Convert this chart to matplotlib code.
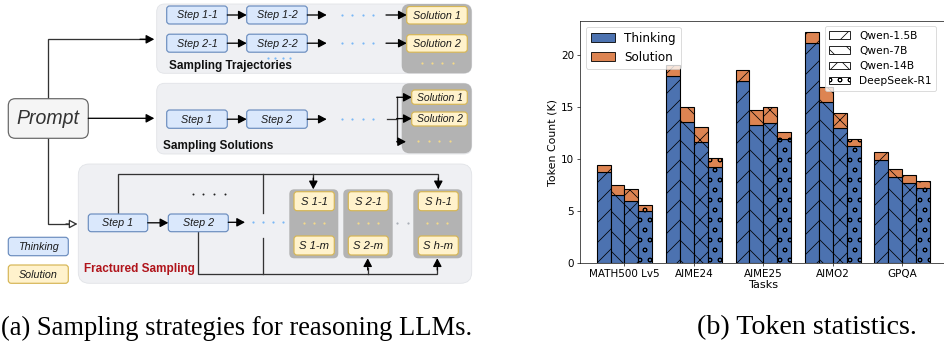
import numpy as np
import matplotlib
matplotlib.use("Agg")
import matplotlib.pyplot as plt
from matplotlib.patches import FancyBboxPatch, Patch

# ---------------- data (right panel) ----------------
tasks = ["MATH500 Lv5", "AIME24", "AIME25", "AIMO2", "GPQA"]
models = ["Qwen-1.5B", "Qwen-7B", "Qwen-14B", "DeepSeek-R1"]
hatches = ["/", "\\", "x", "o"]
thinking_q15 = [8.75, 17.98, 17.50, 21.15, 9.93]
solution_q15 = [0.73, 1.06, 1.09, 1.05, 0.74]
thinking_q7 = [6.57, 13.56, 13.30, 15.54, 8.33]
solution_q7 = [0.93, 1.44, 1.40, 1.38, 0.74]
thinking_q14 = [6.02, 11.63, 13.52, 13.04, 7.72]
solution_q14 = [1.12, 1.47, 1.48, 1.38, 0.77]
thinking_r1 = [5.03, 9.29, 11.98, 11.28, 7.21]
solution_r1 = [0.55, 0.81, 0.62, 0.64, 0.70]

# ---------------- labels (left diagram) ----------------
traj_steps = [["Step 1-1", "Step 1-2"], ["Step 2-1", "Step 2-2"]]
traj_solutions = ["Solution 1", "Solution 2"]
sol_steps = ["Step 1", "Step 2"]
sol_solutions = ["Solution 1", "Solution 2"]
frac_steps = ["Step 1", "Step 2"]
frac_groups = [["S 1-1", "S 1-m"], ["S 2-1", "S 2-m"], ["S h-1", "S h-m"]]

DPI = 60
W, H = 944, 345
fig = plt.figure(figsize=(W / DPI, H / DPI), dpi=DPI)


def fs(px):
    return px * 72.0 / DPI


# ======================= LEFT DIAGRAM =======================
ax0 = fig.add_axes([0, 0, 1, 1])
ax0.set_xlim(0, W)
ax0.set_ylim(H, 0)
ax0.axis("off")

THINK_FC, THINK_EC = "#dae8fc", "#6c8ebf"
SOL_FC, SOL_EC = "#fff2cc", "#d6b656"
PANEL_FC, PANEL_EC = "#eff0f3", "#e1e3e7"
DARK = "#b3b3b3"
LINE = "#333333"
SANS = ["Liberation Sans", "DejaVu Sans"]
LW = fs(1.3)


def rbox(x0, y0, x1, y1, fc, ec, r, lw=1.0, z=1):
    ax0.add_patch(FancyBboxPatch((x0, y0), x1 - x0, y1 - y0,
                                 boxstyle=f"round,pad=0,rounding_size={r}",
                                 fc=fc, ec=ec, lw=lw, zorder=z))


def lbox(x0, y0, x1, y1, text, kind, size=10.8):
    fc, ec = (THINK_FC, THINK_EC) if kind == "t" else (SOL_FC, SOL_EC)
    rbox(x0, y0, x1, y1, fc, ec, 3, lw=fs(1.2), z=3)
    ax0.text((x0 + x1) / 2, (y0 + y1) / 2 + 0.5, text, ha="center", va="center",
             fontsize=fs(size), style="italic", family=SANS, color="#1a1a1a", zorder=4)


def arrow(x0, y0, x1, y1, open_head=False):
    ax0.annotate("", xy=(x1, y1), xytext=(x0, y0),
                 arrowprops=dict(arrowstyle="-|>,head_length=0.45,head_width=0.24",
                                 mutation_scale=fs(15), lw=LW,
                                 fc="white" if open_head else "black",
                                 ec="black" if not open_head else LINE,
                                 color=LINE if open_head else "black",
                                 shrinkA=0, shrinkB=0), zorder=5)


def pline(xs, ys):
    ax0.plot(xs, ys, color=LINE, lw=LW, solid_joinstyle="miter", zorder=2)


def dots(x0, x1, y, n, color, s=2.2):
    ax0.plot(np.linspace(x0, x1, n), [y] * n, "o", ms=fs(s), color=color, mec="none", zorder=4)


# panels
rbox(156.7, 4, 471.7, 73.3, PANEL_FC, PANEL_EC, 8, lw=1)
rbox(156.7, 83.3, 471.7, 154, PANEL_FC, PANEL_EC, 8, lw=1)
rbox(78.3, 164, 471.7, 283.3, PANEL_FC, PANEL_EC, 11, lw=1)
rbox(401.7, 4, 471.7, 73.3, DARK, "none", 8, lw=0, z=2)
rbox(401.7, 83.3, 471.7, 153.3, DARK, "none", 8, lw=0, z=2)
for gx0, gx1 in [(289.3, 338.3), (343.3, 392.7), (413.3, 462.3)]:
    rbox(gx0, 189.3, gx1, 258.3, DARK, "none", 5, lw=0, z=2)

# --- Sampling Trajectories ---
for row, yc in enumerate([15.0, 43.2]):
    y0, y1 = yc - 9, yc + 9
    lbox(166.7, y0, 227.3, y1, traj_steps[row][0], "t")
    lbox(246.7, y0, 307.3, y1, traj_steps[row][1], "t")
    lbox(406.7, y0 + 0.5, 467.3, y1, traj_solutions[row], "s")
    arrow(227.3, yc, 246.7, yc)
    arrow(307.3, yc, 326.7, yc)
    arrow(386.0, yc, 406.7, yc)
    dots(341.7, 373.3, yc, 4, "#7ab8f5")
dots(268, 290, 58.3, 4, "#7ab8f5")
dots(421.7, 452.7, 62.7, 4, "#f3d98a")
ax0.text(169.3, 66.5, "Sampling Trajectories", ha="left", va="center",
         fontsize=fs(11.8), fontweight="bold", family=SANS, color="#111111", zorder=4)

# --- Sampling Solutions ---
lbox(166.7, 110, 227.3, 128.3, sol_steps[0], "t")
lbox(246.7, 110, 307.3, 128.3, sol_steps[1], "t")
arrow(227.3, 119.2, 246.7, 119.2)
arrow(307.3, 119.2, 326.7, 119.2)
dots(341.7, 373.3, 119.2, 4, "#7ab8f5")
pline([386.7, 396.7], [118.6, 118.6])
pline([396.7, 396.7], [97.3, 141.7])
lbox(411.7, 90, 467.3, 104.3, sol_solutions[0], "s", 10.4)
lbox(411.7, 112, 467.3, 126, sol_solutions[1], "s", 10.4)
arrow(396.7, 97.3, 411.7, 97.3)
arrow(396.7, 118.6, 411.7, 118.6)
arrow(396.7, 141.7, 406.0, 141.7)
dots(418, 450, 140.7, 4, "#f3d98a")
ax0.text(163.3, 146.0, "Sampling Solutions", ha="left", va="center",
         fontsize=fs(11.8), fontweight="bold", family=SANS, color="#111111", zorder=4)

# --- Prompt ---
rbox(8.3, 98.7, 88.3, 138.3, "#f5f5f5", "#666666", 7, lw=fs(1.2), z=3)
ax0.text(48.3, 119, "Prompt", ha="center", va="center", fontsize=fs(19.5),
         style="italic", family=SANS, color="#333333", zorder=4)
arrow(88.3, 118.3, 154.3, 118.3)
pline([48.3, 48.3, 150], [98.7, 39.3, 39.3])
arrow(140, 39.3, 154.3, 39.3)
pline([48.3, 48.3, 72], [138.3, 224, 224])
arrow(66, 224, 77.5, 224, open_head=True)

# --- Fractured Sampling ---
lbox(88.3, 214, 147.7, 231.7, frac_steps[0], "t")
lbox(168.3, 214, 228.3, 231.7, frac_steps[1], "t")
arrow(147.7, 222.8, 168.3, 222.8)
arrow(228.3, 222.3, 245.0, 222.3)
dots(252.7, 283.3, 222.3, 4, "#7ab8f5")
dots(192.7, 225, 194, 4, "#222222", 2.0)
pline([118.3, 118.3, 438.3, 438.3], [214, 174, 174, 180])
arrow(438.3, 178, 438.3, 189.3)
pline([313.3, 313.3], [174, 180])
arrow(313.3, 178, 313.3, 189.3)
pline([263.3, 263.3], [174, 213])
pline([263.3, 263.3], [238, 274])
pline([198.3, 198.3, 437.3, 437.3], [231.7, 274, 274, 268])
arrow(437.3, 270, 437.3, 258.3)
pline([367.7, 367.7], [274, 268])
arrow(367.7, 270, 367.7, 258.3)
sx = [(294.0, 334.3), (348.3, 388.3), (418.3, 458.3)]
ydots = [(304, 324), (357.7, 377.7), (427.3, 447.3)]
for (a, b), grp, (d0, d1) in zip(sx, frac_groups, ydots):
    lbox(a, 191.7, b, 210.7, grp[0], "s", 11.2)
    lbox(a, 236.0, b, 255.0, grp[1], "s", 11.2)
    dots(d0, d1, 222.7, 3, "#f3d98a")
dots(396.7, 408.3, 222.7, 2, "#aab0b8")
ax0.text(84, 269.3, "Fractured Sampling", ha="left", va="center",
         fontsize=fs(11.8), fontweight="bold", family=SANS, color="#b0141b", zorder=4)

# legend boxes
lbox(8.3, 237.3, 68.3, 255.7, "Thinking", "t")
lbox(8.3, 265.0, 68.3, 283.3, "Solution", "s")

# captions
SERIF = ["Liberation Serif", "DejaVu Serif"]
ax0.text(1, 328, "(a) Sampling strategies for reasoning LLMs.", ha="left", va="center",
         fontsize=fs(26.5), family=SERIF, color="black")
ax0.text(807, 328, "(b) Token statistics.", ha="center", va="center",
         fontsize=fs(28), family=SERIF, color="black")

# ======================= RIGHT CHART =======================
BLUE, ORANGE = "#4c72b0", "#dd8452"
plt.rcParams["hatch.linewidth"] = 0.9
ax = fig.add_axes([580 / W, (H - 263.3) / H, (946.6 - 580) / W, (263.3 - 21) / H])
x = np.arange(len(tasks))
width = 0.2
thinking_all = [thinking_q15, thinking_q7, thinking_q14, thinking_r1]
solution_all = [solution_q15, solution_q7, solution_q14, solution_r1]
for i, (th, so, ht) in enumerate(zip(thinking_all, solution_all, hatches)):
    off = (i - 1.5) * width
    ax.bar(x + off, th, width, color=BLUE, edgecolor="black", hatch=ht, lw=fs(1.1))
    ax.bar(x + off, so, width, bottom=th, color=ORANGE, edgecolor="black", hatch=ht, lw=fs(1.1))

ax.set_xticks(x)
ax.set_xticklabels(tasks, fontsize=fs(10.4))
ax.tick_params(axis="y", labelsize=fs(10.4))
ax.set_xlabel("Tasks", fontsize=fs(11.2), labelpad=1)
ax.set_ylabel("Token Count (K)", fontsize=fs(11))
ax.set_yticks([0, 5, 10, 15, 20])
ax.set_xlim(-0.64, 4.64)
ax.set_ylim(0, 23.3)

leg1 = ax.legend(handles=[Patch(facecolor=BLUE, edgecolor="black", label="Thinking"),
                          Patch(facecolor=ORANGE, edgecolor="black", label="Solution")],
                 loc="upper left", fontsize=fs(12))
ax.add_artist(leg1)
ax.legend(handles=[Patch(facecolor="white", edgecolor="black", hatch=h, label=m)
                   for h, m in zip(hatches, models)],
          loc="upper right", fontsize=fs(10.6), bbox_to_anchor=(0.985, 1.0))

fig.savefig("out.png", dpi=DPI)
